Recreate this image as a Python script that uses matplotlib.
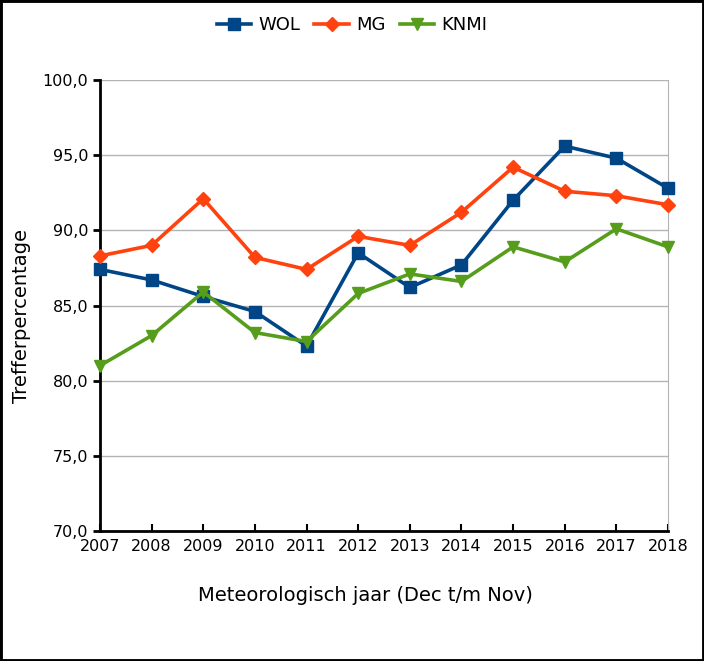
import matplotlib
matplotlib.use("Agg")
import matplotlib.pyplot as plt
from matplotlib.patches import Rectangle
from matplotlib.ticker import FuncFormatter

years = list(range(2007, 2019))
wol = [87.4, 86.7, 85.6, 84.6, 82.3, 88.5, 86.2, 87.7, 92.0, 95.6, 94.8, 92.8]
mg = [88.3, 89.0, 92.1, 88.2, 87.4, 89.6, 89.0, 91.2, 94.2, 92.6, 92.3, 91.7]
knmi = [81.0, 83.0, 85.9, 83.2, 82.6, 85.8, 87.1, 86.6, 88.9, 87.9, 90.1, 88.9]

fig = plt.figure(figsize=(7.04, 6.61), dpi=100)
ax = fig.add_axes([100 / 704, 1 - 531 / 661, 568 / 704, 451 / 661])

ax.plot(years, wol, "s-", color="#004586", lw=2.6, ms=9, label="WOL", clip_on=False, zorder=3)
ax.plot(years, mg, "D-", color="#ff420e", lw=2.6, ms=7, label="MG", clip_on=False, zorder=3)
ax.plot(years, knmi, "v-", color="#579d1c", lw=2.6, ms=9, label="KNMI", clip_on=False, zorder=3)

ax.set_xlim(2007, 2018)
ax.set_ylim(70, 100)
ax.set_xticks(years)
ax.set_yticks(range(70, 101, 5))
ax.yaxis.set_major_formatter(FuncFormatter(lambda v, p: f"{v:.1f}".replace(".", ",")))
ax.grid(axis="y", color="#b3b3b3", lw=1)
ax.set_axisbelow(True)

ax.spines["top"].set_visible(False)
ax.spines["right"].set_color("#b3b3b3")
ax.spines["left"].set_linewidth(2)
ax.spines["bottom"].set_linewidth(2)
ax.tick_params(axis="y", direction="out", length=5, width=2, labelsize=11.5)
ax.tick_params(axis="x", direction="in", length=5, width=1.5, labelsize=11.5, pad=6)

ax.set_ylabel("Trefferpercentage", fontsize=14)
ax.yaxis.set_label_coords(-0.121, 0.477)
ax.set_xlabel("Meteorologisch jaar (Dec t/m Nov)", fontsize=14, labelpad=23)
ax.xaxis.label.set_x(0.468)

fig.legend(loc="center", bbox_to_anchor=(0.5, 1 - 25 / 661), ncol=3, frameon=False,
           fontsize=13, handlelength=1.9, columnspacing=0.8, handletextpad=0.4)

fig.patches.append(Rectangle((0, 0), 1, 1, transform=fig.transFigure, fill=False,
                             edgecolor="black", lw=3.5))

fig.savefig("out.png", dpi=100, facecolor="white")
